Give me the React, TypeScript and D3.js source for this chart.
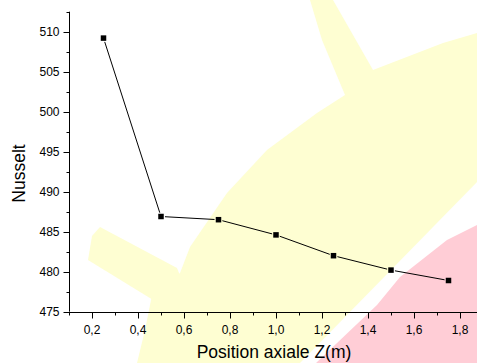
import * as d3 from 'd3';
import React, { useEffect, useRef } from 'react';

// Data
const positions = [0.25, 0.5, 0.75, 1.0, 1.25, 1.5, 1.75];
const nusselt = [509.2, 486.9, 486.5, 484.6, 482.0, 480.2, 478.9];
const xTicks = [0.2, 0.4, 0.6, 0.8, 1.0, 1.2, 1.4, 1.6, 1.8];
const yTicks = [475, 480, 485, 490, 495, 500, 505, 510];

// Faint watermark behind the plot (decoration only, pixel coordinates)
const watermarkYellow: [number, number][][] = [
  [[310, 0], [333, 0], [373, 70], [443, 43], [477, 33], [477, 182], [300, 363], [137, 363], [145, 330],
   [152, 295], [180, 273], [190, 247], [227, 193], [267, 150], [317, 113], [345, 95], [322, 40]],
  [[92, 236], [100, 227], [177, 268], [185, 288], [158, 303], [88, 260]],
];
const watermarkPink: [number, number][][] = [
  [[477, 225], [447, 240], [400, 277], [377, 305], [316, 363], [477, 363]],
];

const App: React.FC = () => {
  const ref = useRef<SVGSVGElement>(null);

  useEffect(() => {
    if (!ref.current) return;
    const svg = d3.select(ref.current);
    svg.selectAll('*').remove();

    const width = 477;
    const height = 363;

    // background watermark
    const bg = svg.append('g');
    const poly = d3.line();
    watermarkYellow.forEach(p => {
      bg.append('path').attr('d', poly(p) + 'Z').attr('fill', '#fefed2');
    });
    watermarkPink.forEach(p => {
      bg.append('path').attr('d', poly(p) + 'Z').attr('fill', '#ffcdd6');
    });

    const x = d3.scaleLinear().domain([0.1, 1.9]).range([69, 483]);
    const y = d3.scaleLinear().domain([475, 512.5]).range([311.7, 11.7]);

    const font = 'Arial, "Liberation Sans", sans-serif';

    // Y axis
    const yAxis = svg.append('g').attr('transform', 'translate(69.5,0)');
    yAxis.append('line')
      .attr('y1', y(512.5)).attr('y2', y(475))
      .attr('stroke', '#000').attr('stroke-width', 1);
    const yMinor = d3.range(475, 512.6, 2.5);
    yAxis.selectAll('.ymin').data(yMinor).enter().append('line')
      .attr('x1', -3).attr('x2', 0)
      .attr('y1', d => Math.round(y(d)) + 0.5).attr('y2', d => Math.round(y(d)) + 0.5)
      .attr('stroke', '#000');
    yAxis.selectAll('.ymaj').data(yTicks).enter().append('line')
      .attr('x1', -6).attr('x2', 0)
      .attr('y1', d => Math.round(y(d)) + 0.5).attr('y2', d => Math.round(y(d)) + 0.5)
      .attr('stroke', '#000');
    yAxis.selectAll('.ylab').data(yTicks).enter().append('text')
      .attr('x', -10).attr('y', d => y(d) + 4.3)
      .attr('text-anchor', 'end')
      .style('font', `12px ${font}`)
      .attr('fill', '#000')
      .text(d => String(d));

    // X axis
    const xAxis = svg.append('g').attr('transform', `translate(0,${Math.round(y(475)) + 0.5})`);
    xAxis.append('line')
      .attr('x1', x(0.1)).attr('x2', x(1.9))
      .attr('stroke', '#000');
    const xMinor = d3.range(1, 20).map(i => i / 10);
    xAxis.selectAll('.xmin').data(xMinor).enter().append('line')
      .attr('x1', d => Math.round(x(d)) + 0.5).attr('x2', d => Math.round(x(d)) + 0.5)
      .attr('y1', 0).attr('y2', 3)
      .attr('stroke', '#000');
    xAxis.selectAll('.xmaj').data(xTicks).enter().append('line')
      .attr('x1', d => Math.round(x(d)) + 0.5).attr('x2', d => Math.round(x(d)) + 0.5)
      .attr('y1', 0).attr('y2', 6)
      .attr('stroke', '#000');
    xAxis.selectAll('.xlab').data(xTicks).enter().append('text')
      .attr('x', d => x(d)).attr('y', 21.5)
      .attr('text-anchor', 'middle')
      .style('font', `12px ${font}`)
      .attr('fill', '#000')
      .text(d => d.toFixed(1).replace('.', ','));

    // Axis titles
    svg.append('text')
      .attr('x', 274).attr('y', 358)
      .attr('text-anchor', 'middle')
      .style('font', `17.5px ${font}`)
      .attr('fill', '#000')
      .text('Position axiale Z(m)');
    svg.append('text')
      .attr('transform', 'translate(25,173.5) rotate(-90)')
      .attr('text-anchor', 'middle')
      .style('font', `17.5px ${font}`)
      .attr('fill', '#000')
      .text('Nusselt');

    // Line segments with small gaps at the markers
    const pts = positions.map((p, i) => [x(p), y(nusselt[i])] as [number, number]);
    const gap = 4;
    for (let i = 0; i < pts.length - 1; i++) {
      const [x1, y1] = pts[i];
      const [x2, y2] = pts[i + 1];
      const len = Math.hypot(x2 - x1, y2 - y1);
      const ux = (x2 - x1) / len, uy = (y2 - y1) / len;
      svg.append('line')
        .attr('x1', x1 + ux * gap).attr('y1', y1 + uy * gap)
        .attr('x2', x2 - ux * gap).attr('y2', y2 - uy * gap)
        .attr('stroke', '#000').attr('stroke-width', 1);
    }

    // Square markers
    const s = 5.5;
    svg.selectAll('.pt').data(pts).enter().append('rect')
      .attr('x', d => d[0] - s / 2).attr('y', d => d[1] - s / 2)
      .attr('width', s).attr('height', s)
      .attr('fill', '#000');

    svg.attr('width', width).attr('height', height);
  }, []);

  return (
    <svg
      ref={ref}
      width={477}
      height={363}
      style={{ position: 'absolute', left: 0, top: 0, display: 'block', background: '#fff' }}
    />
  );
};

export default App;
